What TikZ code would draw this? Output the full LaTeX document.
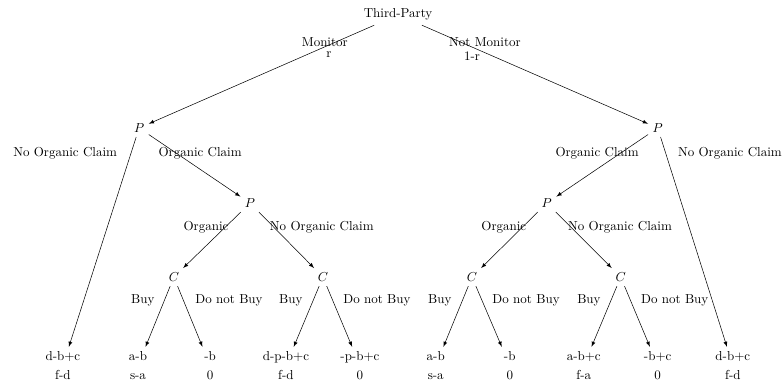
\documentclass[tikz,border=0pt]{standalone}
\usepackage{tikz}

\begin{document}
\begin{tikzpicture}[branch/.style={-latex, thin}, leaf/.style={align=center}]
        \useasboundingbox (0,0) rectangle (21.14,10.35);
        % Root
        \node (tp) at (10.76,9.95) {Third-Party};
        \node (mon) at (8.78,9.22) {Monitor};
        \node (monp) at (8.89,8.86) {r};
        \node (nmon) at (13.11,9.22) {Not Monitor};
        \node (nmonp) at (12.76,8.83) {1-r};

        % Producer nodes
        \node (pl) at (3.76,6.89) {$P$};
        \node (pr) at (17.78,6.89) {$P$};
        \node (noc1) at (1.76,6.22) {No Organic Claim};
        \node (oc1) at (5.41,6.22) {Organic Claim};
        \node (oc2) at (16.14,6.22) {Organic Claim};
        \node (noc2) at (19.73,6.22) {No Organic Claim};

        \node (pl2) at (6.76,4.86) {$P$};
        \node (pr2) at (14.78,4.86) {$P$};
        \node (org1) at (5.57,4.22) {Organic};
        \node (noc3) at (8.70,4.22) {No Organic Claim};
        \node (org2) at (13.62,4.22) {Organic};
        \node (noc4) at (16.76,4.22) {No Organic Claim};

        % Consumer nodes
        \node (c1) at (4.70,2.86) {$C$};
        \node (c2) at (8.73,2.86) {$C$};
        \node (c3) at (12.76,2.86) {$C$};
        \node (c4) at (16.78,2.86) {$C$};
        \node (buy1) at (3.86,2.22) {Buy};
        \node (buy2) at (7.86,2.22) {Buy};
        \node (buy3) at (11.89,2.22) {Buy};
        \node (buy4) at (15.92,2.22) {Buy};
        \node (dnb1) at (6.19,2.22) {Do not Buy};
        \node (dnb2) at (10.19,2.22) {Do not Buy};
        \node (dnb3) at (14.22,2.22) {Do not Buy};
        \node (dnb4) at (18.24,2.22) {Do not Buy};

        % Payoffs
        \node[leaf] (l1) at (1.70,0.47) {d-b+c\\[2.5pt]f-d};
        \node[leaf] (l2) at (3.73,0.47) {a-b\\[2.5pt]s-a};
        \node[leaf] (l3) at (5.68,0.47) {-b\\[2.5pt]0};
        \node[leaf] (l4) at (7.73,0.47) {d-p-b+c\\[2.5pt]f-d};
        \node[leaf] (l5) at (9.73,0.47) {-p-b+c\\[2.5pt]0};
        \node[leaf] (l6) at (11.78,0.47) {a-b\\[2.5pt]s-a};
        \node[leaf] (l7) at (13.78,0.47) {-b\\[2.5pt]0};
        \node[leaf] (l8) at (15.78,0.47) {a-b+c\\[2.5pt]f-a};
        \node[leaf] (l9) at (17.78,0.47) {-b+c\\[2.5pt]0};
        \node[leaf] (l10) at (19.81,0.47) {d-b+c\\[2.5pt]f-d};

        % Branches
        \draw[branch] (tp) -- (pl);
        \draw[branch] (tp) -- (pr);
        \draw[branch] (pl) -- (l1);
        \draw[branch] (pl) -- (pl2);
        \draw[branch] (pr) -- (pr2);
        \draw[branch] (pr) -- (l10);
        \draw[branch] (pl2) -- (c1);
        \draw[branch] (pl2) -- (c2);
        \draw[branch] (pr2) -- (c3);
        \draw[branch] (pr2) -- (c4);
        \draw[branch] (c1) -- (l2);
        \draw[branch] (c1) -- (l3);
        \draw[branch] (c2) -- (l4);
        \draw[branch] (c2) -- (l5);
        \draw[branch] (c3) -- (l6);
        \draw[branch] (c3) -- (l7);
        \draw[branch] (c4) -- (l8);
        \draw[branch] (c4) -- (l9);
    \end{tikzpicture}
\end{document}
